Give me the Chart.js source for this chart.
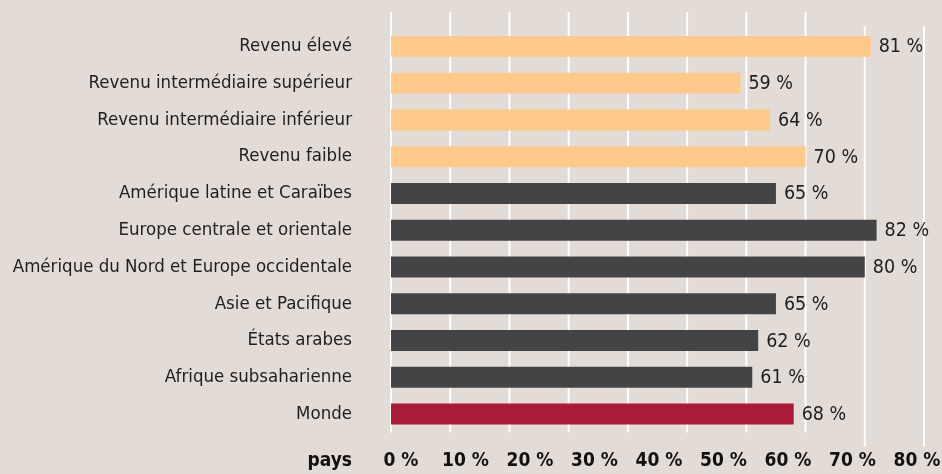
<!DOCTYPE html>
<html lang="fr">
<head>
<meta charset="utf-8">
<title>Pays</title>
<script src="https://cdn.jsdelivr.net/npm/chart.js@4.4.1/dist/chart.umd.min.js"></script>
<style>
  html, body { margin: 0; padding: 0; background: #e3dbd6; }
  #wrap { width: 942px; height: 474px; position: relative; }
</style>
</head>
<body>
<div id="wrap"><canvas id="chart"></canvas></div>
<script>
// data
const categories = [
  'Revenu élevé',
  'Revenu intermédiaire supérieur',
  'Revenu intermédiaire inférieur',
  'Revenu faible',
  'Amérique latine et Caraïbes',
  'Europe centrale et orientale',
  'Amérique du Nord et Europe occidentale',
  'Asie et Pacifique',
  'États arabes',
  'Afrique subsaharienne',
  'Monde'
];
const values = [81, 59, 64, 70, 65, 82, 80, 65, 62, 61, 68];
const groups = ['revenu', 'revenu', 'revenu', 'revenu',
  'region', 'region', 'region', 'region', 'region', 'region', 'monde'];
const tickValues = [0, 10, 20, 30, 40, 50, 60, 70, 80];
const gridValues = [0, 10, 20, 30, 40, 50, 60, 70, 80, 90];
const axisTitle = 'pays';

const palette = {
  revenu: '#ffc98a',
  region: '#444446',
  monde: '#a81c38'
};
const fontFamily = '"Liberation Sans Narrow", "DejaVu Sans Condensed", "Liberation Sans", sans-serif';

// white vertical lines, drawn under the bars
const gridPlugin = {
  id: 'gridLines',
  beforeDatasetsDraw(chart) {
    const { ctx, chartArea, scales } = chart;
    ctx.save();
    ctx.strokeStyle = '#ffffff';
    ctx.lineWidth = 2;
    gridValues.forEach(v => {
      const x = scales.x.getPixelForValue(v);
      const top = v <= 70 ? chartArea.top - 16 : chartArea.top - 2;
      const bottom = v <= 70 ? chartArea.bottom : chartArea.bottom + 14;
      ctx.beginPath();
      ctx.moveTo(x, top);
      ctx.lineTo(x, bottom);
      ctx.stroke();
    });
    ctx.restore();
  }
};

// value labels next to each bar + the "pays" caption
const labelPlugin = {
  id: 'valueLabels',
  afterDatasetsDraw(chart) {
    const { ctx } = chart;
    const meta = chart.getDatasetMeta(0);
    ctx.save();
    ctx.font = '19.5px ' + fontFamily;
    ctx.fillStyle = '#1e1e1e';
    ctx.textAlign = 'left';
    ctx.textBaseline = 'middle';
    meta.data.forEach((bar, i) => {
      ctx.fillText(values[i] + ' %', bar.x + 8, bar.y + 1);
    });
    const x2 = chart.scales.x2;
    ctx.font = 'bold 19px ' + fontFamily;
    ctx.fillStyle = '#111111';
    ctx.textAlign = 'right';
    ctx.fillText(axisTitle, chart.chartArea.left - 39, x2.top + 17.5 + 11.4);
    ctx.restore();
  }
};

new Chart(document.getElementById('chart'), {
  type: 'bar',
  data: {
    labels: categories,
    datasets: [{
      data: values,
      backgroundColor: groups.map(g => palette[g]),
      borderWidth: 0,
      categoryPercentage: 1,
      barPercentage: 0.57
    }]
  },
  options: {
    indexAxis: 'y',
    responsive: true,
    maintainAspectRatio: false,
    animation: false,
    layout: { padding: { top: 28, right: 18, bottom: 2, left: 0 } },
    scales: {
      x: {
        display: false,
        min: 0,
        max: 90
      },
      x2: {
        type: 'linear',
        position: 'bottom',
        min: -1.55,
        max: 81.09,
        grid: { display: false, drawTicks: false },
        border: { display: false },
        afterBuildTicks: scale => {
          scale.ticks = tickValues.map(v => ({ value: v }));
        },
        afterFit: scale => {
          scale.height = 39.6;
          scale.paddingLeft = 0;
          scale.paddingRight = 0;
        },
        ticks: {
          autoSkip: false,
          maxRotation: 0,
          padding: 17.5,
          color: '#111111',
          font: { family: fontFamily, size: 19, weight: 'bold' },
          callback: v => v + ' %'
        }
      },
      y: {
        grid: { display: false, drawTicks: false },
        border: { display: false },
        afterFit: scale => {
          scale.width = 391;
          scale.paddingTop = 0;
          scale.paddingBottom = 0;
        },
        ticks: {
          padding: 39,
          color: '#1e1e1e',
          font: { family: fontFamily, size: 18.5 }
        }
      }
    },
    plugins: {
      legend: { display: false },
      tooltip: { enabled: false }
    }
  },
  plugins: [gridPlugin, labelPlugin]
});
</script>
</body>
</html>
